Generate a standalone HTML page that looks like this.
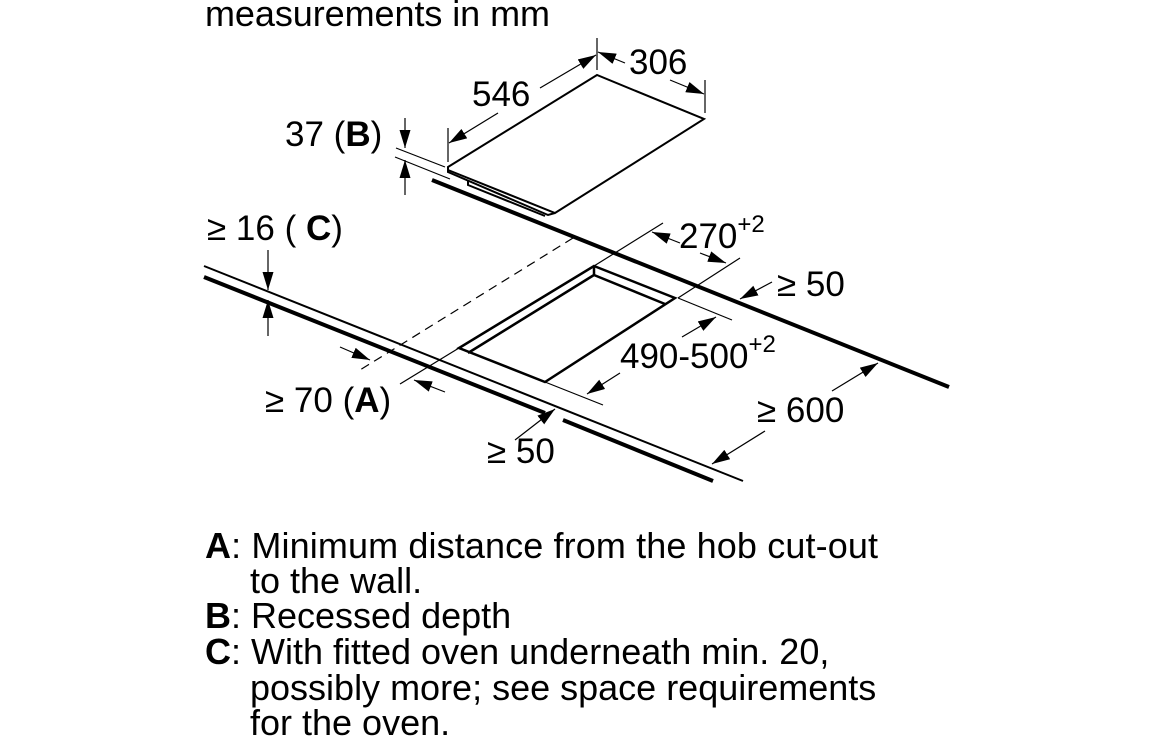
<!DOCTYPE html>
<html><head><meta charset="utf-8"><style>
html,body{margin:0;padding:0;background:#fff;}
svg{display:block;}
text{font-family:"Liberation Sans",Arial,sans-serif;fill:#000;}
</style></head><body>
<svg width="1156" height="742" viewBox="0 0 1156 742" xmlns="http://www.w3.org/2000/svg">
<defs>
<marker id="arB" markerWidth="18" markerHeight="11" refX="18" refY="5.5" orient="auto" markerUnits="userSpaceOnUse">
<path d="M0,0 L18,5.5 L0,11 Z" fill="#000"/></marker>
</defs>
<text x="205" y="26" font-size="36" textLength="345">measurements in mm</text>

<!-- hob -->
<g stroke="#000" fill="none" stroke-width="2">
<path d="M448,167 L597,75 L704,119 L555,213 L448,170 Z" fill="#fff"/>
<path d="M448,170 L448,172 L548,215 L555,213"/>
<path d="M468,181 L468,185 L545,216"/>
</g>
<g stroke="#000" stroke-width="1.2" fill="none">
<line x1="448" y1="128" x2="448" y2="162"/>
<line x1="597" y1="38" x2="597" y2="70"/>
<line x1="705" y1="80" x2="705" y2="113"/>
<line x1="498" y1="113" x2="449" y2="143" marker-end="url(#arB)"/>
<line x1="540" y1="88" x2="596" y2="55" marker-end="url(#arB)"/>
<line x1="625" y1="63" x2="598" y2="52" marker-end="url(#arB)"/>
<line x1="670" y1="80" x2="704" y2="94" marker-end="url(#arB)"/>
<line x1="396" y1="148" x2="445" y2="167"/>
<line x1="395" y1="157" x2="450" y2="179"/>
<line x1="405" y1="118" x2="405" y2="148" marker-end="url(#arB)"/>
<line x1="405" y1="195" x2="405" y2="160" marker-end="url(#arB)"/>
</g>
<text x="472" y="106" font-size="35">546</text>
<text x="629" y="74" font-size="35">306</text>
<text x="285" y="146" font-size="35">37 (<tspan font-weight="bold">B</tspan>)</text>

<!-- countertop -->
<g stroke="#000" fill="none">
<line x1="432" y1="180" x2="949" y2="387" stroke-width="4"/>
<line x1="204" y1="266" x2="743" y2="481" stroke-width="2"/>
<line x1="204" y1="277" x2="545" y2="413" stroke-width="4"/>
<line x1="563" y1="420" x2="713" y2="481" stroke-width="4"/>
<path d="M594,266 L675,298 L545,382 L459,348 Z" stroke-width="2.5" fill="#fff"/>
<path d="M594,266 L594,275 L468,353 M594,275 L665,304" stroke-width="2.5"/>
<line x1="573" y1="238" x2="360" y2="370" stroke-width="1.2" stroke-dasharray="9,6"/>
</g>
<g stroke="#000" stroke-width="1.2" fill="none">
<line x1="663" y1="223" x2="594" y2="266"/>
<line x1="459" y1="348" x2="400" y2="384"/>
<line x1="678" y1="298" x2="740" y2="258"/>
<line x1="678" y1="298" x2="732" y2="320"/>
<line x1="545" y1="382" x2="603" y2="405"/>
<line x1="680" y1="243" x2="652" y2="232" marker-end="url(#arB)"/>
<line x1="700" y1="253" x2="726" y2="263" marker-end="url(#arB)"/>
<line x1="682" y1="337" x2="716" y2="317" marker-end="url(#arB)"/>
<line x1="620" y1="373" x2="587" y2="394" marker-end="url(#arB)"/>
<line x1="772" y1="282" x2="740" y2="299" marker-end="url(#arB)"/>
<line x1="832" y1="391" x2="878" y2="363" marker-end="url(#arB)"/>
<line x1="765" y1="431" x2="712" y2="464" marker-end="url(#arB)"/>
<line x1="340" y1="347" x2="370" y2="360" marker-end="url(#arB)"/>
<line x1="445" y1="392" x2="414" y2="380" marker-end="url(#arB)"/>
<line x1="515" y1="440" x2="555" y2="409" marker-end="url(#arB)"/>
<line x1="268" y1="250" x2="268" y2="290" marker-end="url(#arB)"/>
<line x1="268" y1="336" x2="268" y2="300" marker-end="url(#arB)"/>
</g>
<text x="679" y="248" font-size="35">270<tspan font-size="24" dy="-16">+2</tspan></text>
<text x="620" y="368" font-size="35">490-500<tspan font-size="24" dy="-16">+2</tspan></text>
<text x="777" y="296" font-size="35">≥ 50</text>
<text x="757" y="422" font-size="35">≥ 600</text>
<text x="207" y="240" font-size="35">≥ 16 ( <tspan font-weight="bold">C</tspan>)</text>
<text x="265" y="412" font-size="35">≥ 70 (<tspan font-weight="bold">A</tspan>)</text>
<text x="487" y="463" font-size="35">≥ 50</text>

<!-- legend -->
<g font-size="36">
<text x="205" y="558" textLength="673"><tspan font-weight="bold">A</tspan>: Minimum distance from the hob cut-out</text>
<text x="250" y="593">to the wall.</text>
<text x="205" y="628"><tspan font-weight="bold">B</tspan>: Recessed depth</text>
<text x="205" y="664"><tspan font-weight="bold">C</tspan>: With fitted oven underneath min. 20,</text>
<text x="250" y="700">possibly more; see space requirements</text>
<text x="250" y="735">for the oven.</text>
</g>
</svg>
</body></html>
